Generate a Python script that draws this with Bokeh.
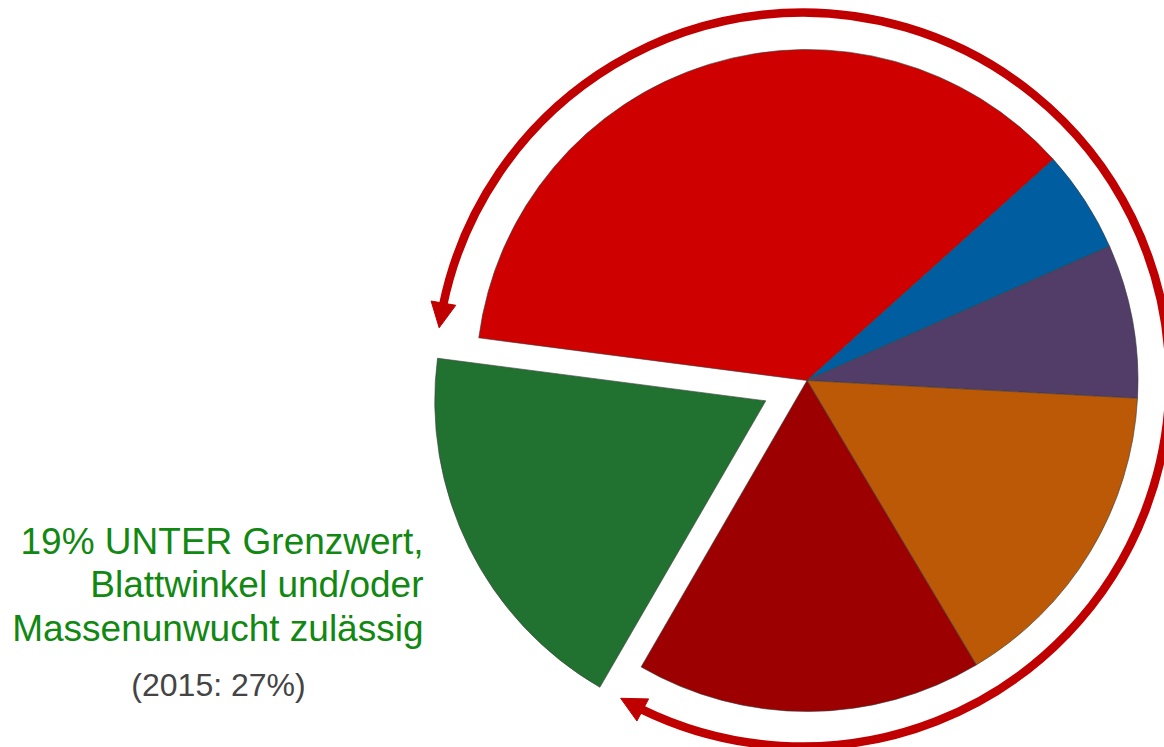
import math
from bokeh.plotting import figure
from bokeh.models import Arrow, NormalHead, ColumnDataSource
from bokeh.core.properties import value
from bokeh.embed import file_html
from bokeh.resources import INLINE

# ---- data ----
categories = ["Segment 1", "Segment 2", "Segment 3", "Segment 4", "Segment 5", "UNTER Grenzwert"]
shares = [36.3, 5.0, 7.5, 15.6, 16.9, 18.7]
slice_colors = ["#cf0000", "#005da0", "#513d67", "#bc5906", "#9c0000", "#217230"]
exploded = [False, False, False, False, False, True]
label_lines = ["19% UNTER Grenzwert,", "Blattwinkel und/oder", "Massenunwucht zulässig"]
note_text = ["(2015: 27%)"]

# ---- layout / style ----
W, H = 1164, 747
cx, cy = 806.5, H - 380.0
R = 331.0
start_deg = 172.6          # first slice starts here, slices run clockwise
explode_px = 46.0
arc_cx, arc_cy, arc_r = 802.0, H - 379.0, 367.0
arc_color = "#c00000"
arc_from_deg, arc_to_deg = 168.4, -116.0
tip1_deg, tip2_deg = 171.9, -119.7

p = figure(width=W, height=H, x_range=(0, W), y_range=(0, H),
           output_backend="svg", toolbar_location=None, min_border=0)
p.axis.visible = False
p.grid.visible = False
p.outline_line_color = None
p.background_fill_color = "white"
p.border_fill_color = "white"

# wedges
xs, ys, a0, a1 = [], [], [], []
total = sum(shares)
hi = start_deg
for s, ex in zip(shares, exploded):
    span = s / total * 360.0
    lo = hi - span
    mid = math.radians((lo + hi) / 2)
    off = explode_px if ex else 0.0
    xs.append(cx + off * math.cos(mid))
    ys.append(cy + off * math.sin(mid))
    a0.append(math.radians(lo))
    a1.append(math.radians(hi))
    hi = lo

src = ColumnDataSource(dict(x=xs, y=ys, start=a0, end=a1, color=slice_colors, cat=categories))
p.wedge(x="x", y="y", radius=R, start_angle="start", end_angle="end",
        fill_color="color", line_color="#3a3a3a", line_alpha=0.6, line_width=1.0, source=src)

# surrounding arc with arrowheads
p.arc(x=[arc_cx], y=[arc_cy], radius=arc_r, start_angle=math.radians(arc_from_deg),
      end_angle=math.radians(arc_to_deg), direction="clock", line_color=arc_color, line_width=8.5)

def pt(deg):
    return arc_cx + arc_r * math.cos(math.radians(deg)), arc_cy + arc_r * math.sin(math.radians(deg))

for base_deg, tip_deg in [(arc_from_deg, tip1_deg), (arc_to_deg, tip2_deg)]:
    xs0, ys0 = pt(base_deg)
    xe, ye = pt(tip_deg)
    p.add_layout(Arrow(end=NormalHead(size=25, fill_color=arc_color, line_color=arc_color, line_width=1),
                       x_start=xs0, y_start=ys0, x_end=xe, y_end=ye,
                       line_color=arc_color, line_width=8, line_alpha=0))

# texts
line_y = [H - 540.5, H - 584.0, H - 628.0]
p.text(x=[423] * 3, y=line_y, text=label_lines, text_align="right", text_baseline="alphabetic",
       text_font=value("Liberation Sans"), text_font_size="37px", text_color="#118811")
p.text(x=[218], y=[H - 684.0], text=note_text, text_align="center", text_baseline="alphabetic",
       text_font=value("Liberation Sans"), text_font_size="32px", text_color="#444444")

open("out.html", "w").write(file_html(p, INLINE))
